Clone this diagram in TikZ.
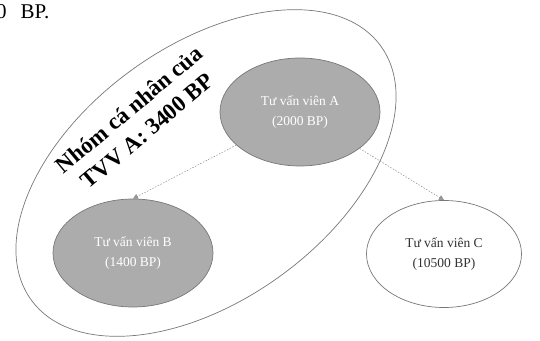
\documentclass[tikz,border=0pt]{standalone}
\usepackage{fontspec}
\setmainfont{Liberation Serif}
\usetikzlibrary{shapes.geometric,arrows.meta}
\definecolor{shade}{RGB}{172,172,172}
\definecolor{rim}{RGB}{120,120,120}
\tikzset{
  person/.style={ellipse, draw=rim, line width=0.7pt, inner sep=0pt,
    minimum width=160pt, minimum height=108pt, align=center,
    font=\fontsize{13.5}{20.5}\selectfont},
  inner/.style={person, fill=shade, text=white},
  outer/.style={person, fill=white, text=black!80},
  link/.style={draw=gray!90, line width=0.5pt, dash pattern=on 1.5pt off 1.5pt,
    -{Triangle[length=5pt,width=5pt,fill=gray!80]}},
  group/.style={draw=rim, line width=0.7pt},
}
\begin{document}
\begin{tikzpicture}[x=1pt,y=1pt]
\useasboundingbox (0,0) rectangle (540,340);
\clip (0,0) rectangle (540,340);
\fill[white] (0,0) rectangle (540,340);
\node[anchor=base west, inner sep=0pt, font=\fontsize{21}{25}\selectfont] (frag) at (-4,321) {0\hspace{14pt}BP.};
\draw[group] (206,167) ellipse[x radius=216, y radius=127, rotate=36];
\node[rotate=40, align=center, font=\fontsize{23}{28}\selectfont\bfseries] (title) at (138,220) {Nhóm cá nhân của\\TVV A: 3400 BP};
\node[inner] (A) at (300,228) {Tư vấn viên A\\(2000 BP)};
\node[inner] (B) at (133,87) {Tư vấn viên B\\(1400 BP)};
\node[outer, minimum width=155pt, minimum height=107pt] (C) at (444,86) {Tư vấn viên C\\(10500 BP)};
\draw[link] (A) -- (B.north);
\draw[link] (A) -- (C.north);
\end{tikzpicture}
\end{document}
